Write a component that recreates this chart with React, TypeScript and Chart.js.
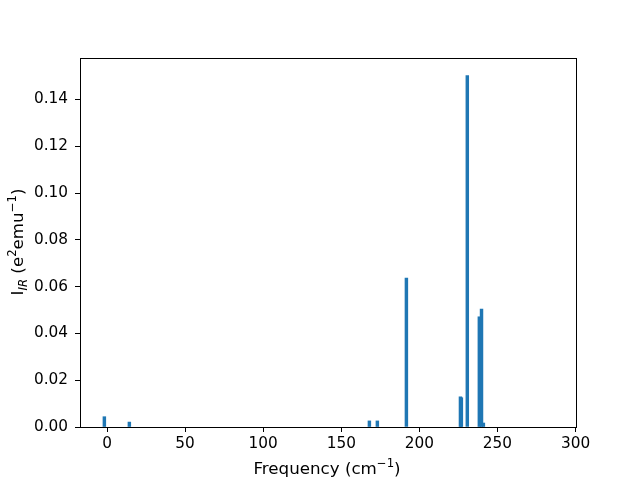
import React, { useEffect, useRef } from "react";
import { Chart, registerables } from "chart.js";

Chart.register(...registerables);

const frequencies = [-1.7, 14.3, 168.0, 173.1, 191.7, 226.3, 226.9, 230.7, 238.4, 239.8, 241.0];
const intensities = [0.0044, 0.0021, 0.0026, 0.0026, 0.0636, 0.0129, 0.0125, 0.1502, 0.0471, 0.0504, 0.0017];
const xTicks = [0, 50, 100, 150, 200, 250, 300];
const yTicks = [0, 0.02, 0.04, 0.06, 0.08, 0.1, 0.12, 0.14];

const FONT = "'DejaVu Sans', sans-serif";

type Seg = { t: string; size: number; dy: number; italic?: boolean };

function drawRich(ctx: CanvasRenderingContext2D, segs: Seg[], cx: number, cy: number, rot: number) {
  ctx.save();
  ctx.translate(cx, cy);
  ctx.rotate(rot);
  ctx.fillStyle = "#000";
  ctx.textBaseline = "alphabetic";
  ctx.textAlign = "left";
  let total = 0;
  const widths = segs.map((s) => {
    ctx.font = `${s.italic ? "italic " : ""}${s.size}px ${FONT}`;
    const w = ctx.measureText(s.t).width;
    total += w;
    return w;
  });
  let x = -total / 2;
  segs.forEach((s, i) => {
    ctx.font = `${s.italic ? "italic " : ""}${s.size}px ${FONT}`;
    ctx.fillText(s.t, x, s.dy);
    x += widths[i];
  });
  ctx.restore();
}

const framePlugin = {
  id: "frame",
  afterDraw(chart: any) {
    const { ctx, chartArea } = chart;
    ctx.save();
    ctx.strokeStyle = "#000";
    ctx.lineWidth = 1;
    ctx.strokeRect(
      Math.round(chartArea.left) + 0.5,
      Math.round(chartArea.top) + 0.5,
      Math.round(chartArea.right - chartArea.left),
      Math.round(chartArea.bottom - chartArea.top)
    );
    ctx.restore();
    // x-axis title
    drawRich(
      ctx,
      [
        { t: "Frequency (cm", size: 16.7, dy: 0 },
        { t: "\u22121", size: 11.7, dy: -7 },
        { t: ")", size: 16.7, dy: 0 },
      ],
      327,
      474,
      0
    );
    // y-axis title
    drawRich(
      ctx,
      [
        { t: "I", size: 16.7, dy: 0 },
        { t: "IR", size: 11.7, dy: 3.5, italic: true },
        { t: " (e", size: 16.7, dy: 0 },
        { t: "2", size: 11.7, dy: -7 },
        { t: "emu", size: 16.7, dy: 0 },
        { t: "\u22121", size: 11.7, dy: -7 },
        { t: ")", size: 16.7, dy: 0 },
      ],
      23,
      242,
      -Math.PI / 2
    );
  },
};

export default function App() {
  const ref = useRef<HTMLCanvasElement>(null);
  useEffect(() => {
    if (!ref.current) return;
    const chart = new Chart(ref.current, {
      type: "bar",
      data: {
        datasets: [
          {
            data: frequencies.map((f, i) => ({ x: f, y: intensities[i] })),
            backgroundColor: "#1f77b4",
            borderWidth: 0,
            barThickness: 2.8,
          } as any,
        ],
      },
      options: {
        animation: false,
        responsive: false,
        maintainAspectRatio: false,
        layout: { padding: { left: 0, top: 58, right: 64, bottom: 0 } },
        plugins: { legend: { display: false }, tooltip: { enabled: false } },
        scales: {
          x: {
            type: "linear",
            min: -17.3,
            max: 300.3,
            offset: false,
            afterFit: (s: any) => {
              s.height = 53;
            },
            afterBuildTicks: (s: any) => {
              s.ticks = xTicks.map((v) => ({ value: v }));
            },
            grid: { display: true, offset: false, drawOnChartArea: false, drawTicks: true, tickLength: 5, color: "#000" },
            border: { display: true, color: "#000" },
            ticks: {
              color: "#000",
              font: { family: FONT, size: 15.3 },
              padding: 3,
              maxRotation: 0,
              autoSkip: false,
              callback: (v: any) => String(v),
            },
          },
          y: {
            type: "linear",
            min: 0,
            max: 0.1577,
            afterFit: (s: any) => {
              s.width = 80;
            },
            afterBuildTicks: (s: any) => {
              s.ticks = yTicks.map((v) => ({ value: v }));
            },
            grid: { display: true, offset: false, drawOnChartArea: false, drawTicks: true, tickLength: 5, color: "#000" },
            border: { display: true, color: "#000" },
            ticks: {
              color: "#000",
              font: { family: FONT, size: 15.3 },
              padding: 7,
              autoSkip: false,
              callback: (v: any) => Number(v).toFixed(2),
            },
          },
        },
      },
      plugins: [framePlugin],
    });
    return () => chart.destroy();
  }, []);
  return (
    <div style={{ position: "fixed", left: 0, top: 0, width: 640, height: 480, background: "#fff" }}>
      <canvas ref={ref} width={640} height={480} style={{ width: 640, height: 480 }} />
    </div>
  );
}
